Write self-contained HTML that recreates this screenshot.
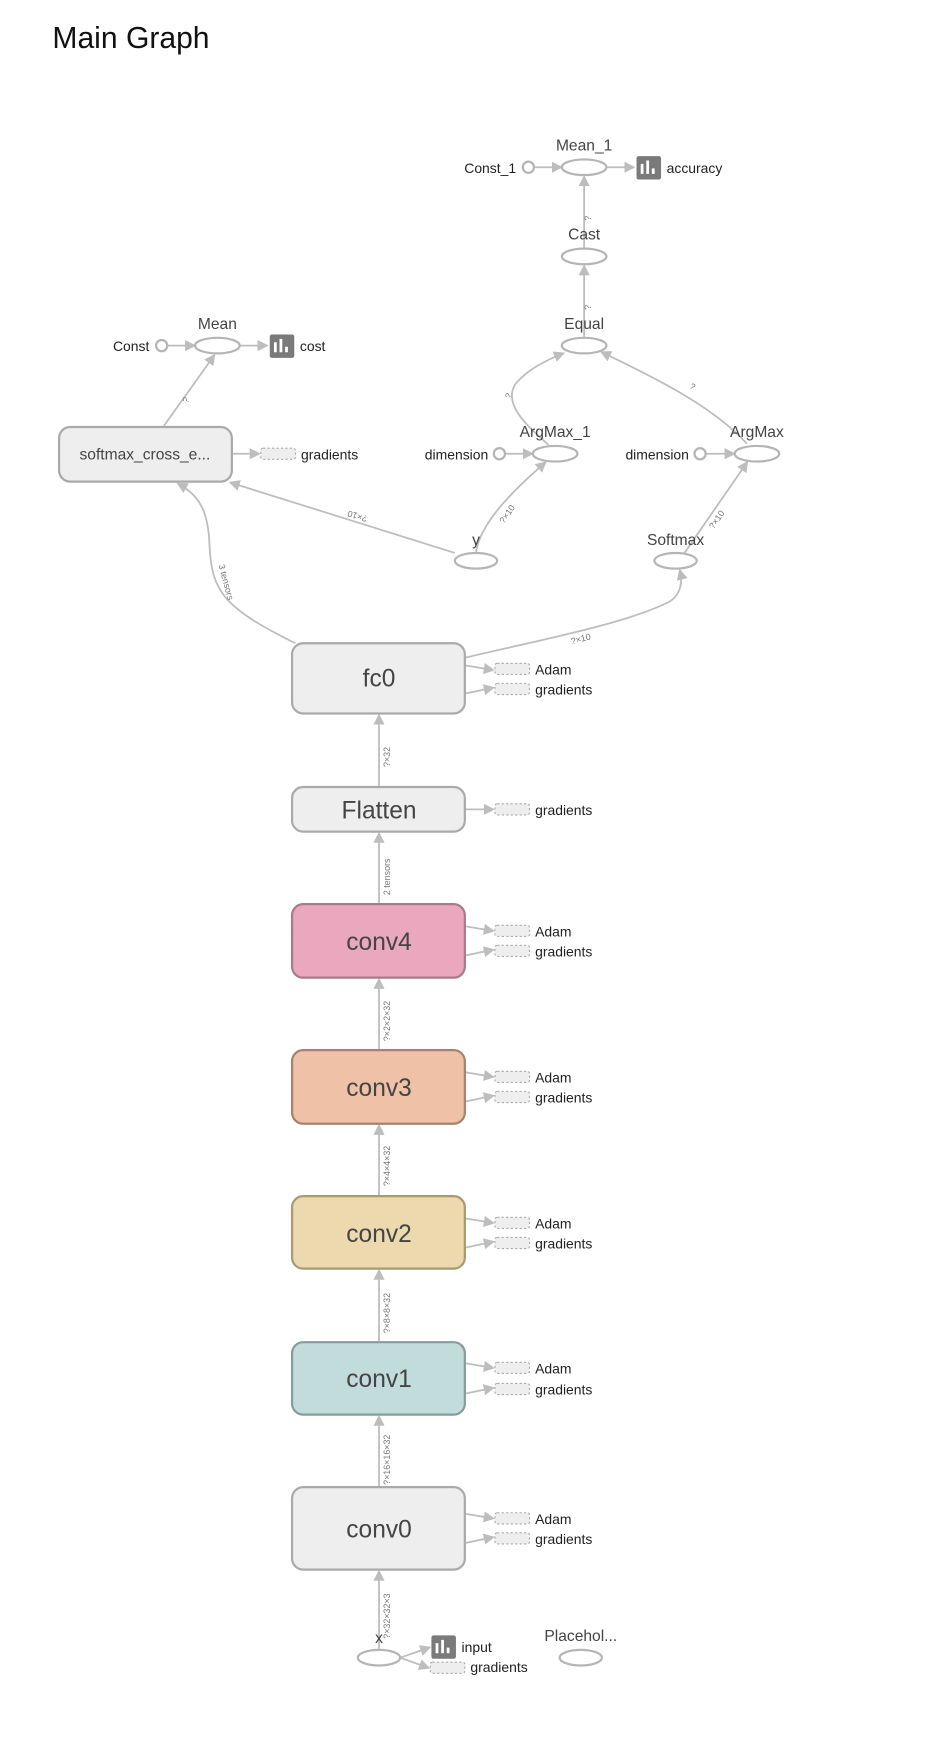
<!DOCTYPE html>
<html><head><meta charset="utf-8"><style>
html,body{margin:0;padding:0;background:#fff;width:952px;height:1748px;overflow:hidden}
svg{display:block}
text{font-family:"Liberation Sans",sans-serif}
.e{fill:none;stroke:#bdbdbd;stroke-width:1.6}
.el{fill:#fff;stroke:#b5b5b5;stroke-width:2}
.lbl{font-size:14px;fill:#444;text-anchor:middle}
.sm{font-size:12.5px;fill:#222}
.el2{font-size:8px;fill:#777}
.big{font-size:22px;fill:#444;text-anchor:middle}
.db{fill:#eee;stroke:#aaa;stroke-width:1;stroke-dasharray:2,2}
</style></head><body>
<svg width="952" height="1748" viewBox="0 0 854 1568">
<defs><marker id="a" markerWidth="10" markerHeight="10" refX="8" refY="5" orient="auto" markerUnits="userSpaceOnUse"><path d="M0,0 L10,5 L0,10 z" fill="#bdbdbd"/></marker></defs>
<text x="47" y="43" font-size="27" fill="#111">Main Graph</text>

<g class="e" marker-end="url(#a)">
<line x1="479" y1="150" x2="503" y2="150"/>
<line x1="544" y1="150" x2="568" y2="150"/>
<line x1="524" y1="222" x2="524" y2="159"/>
<line x1="524" y1="302" x2="524" y2="239"/>
<line x1="150" y1="310" x2="174" y2="310"/>
<line x1="215" y1="310" x2="239" y2="310"/>
<line x1="147" y1="382" x2="192" y2="319"/>
<line x1="209" y1="407" x2="232" y2="407"/>
<line x1="453" y1="407" x2="477" y2="407"/>
<line x1="633" y1="407" x2="658" y2="407"/>
<path d="M492,399 C470,380 452,362 462,345 C472,332 490,323 505,317"/>
<path d="M670,398 C640,365 590,340 540,316"/>
<path d="M408,496 L207,433"/>
<path d="M427,496 C430,470 460,440 489,415"/>
<path d="M614,496 L670,415"/>
<path d="M265,577 C200,545 190,530 188,490 C187,460 180,445 160,434"/>
<path d="M417,590 C480,575 560,560 600,540 C612,533 612,520 610,512"/>
<line x1="340" y1="705" x2="340" y2="642"/>
<line x1="340" y1="810" x2="340" y2="748"/>
<line x1="340" y1="941" x2="340" y2="879"/>
<line x1="340" y1="1072" x2="340" y2="1010"/>
<line x1="340" y1="1203" x2="340" y2="1140"/>
<line x1="340" y1="1333" x2="340" y2="1271"/>
<line x1="340" y1="1479" x2="340" y2="1410"/>
<line x1="359" y1="1487" x2="385" y2="1478"/>
<line x1="359" y1="1487" x2="384" y2="1496"/>
</g>
<g class="e" marker-end="url(#a)">
<line x1="418" y1="597" x2="442" y2="601"/><line x1="418" y1="622" x2="442" y2="617"/>
<line x1="418" y1="726" x2="442" y2="726"/>
<line x1="418" y1="831" x2="442" y2="835"/><line x1="418" y1="857" x2="442" y2="852"/>
<line x1="418" y1="962" x2="442" y2="966"/><line x1="418" y1="988" x2="442" y2="983"/>
<line x1="418" y1="1093" x2="442" y2="1097"/><line x1="418" y1="1119" x2="442" y2="1114"/>
<line x1="418" y1="1223" x2="442" y2="1227"/><line x1="418" y1="1250" x2="442" y2="1245"/>
<line x1="418" y1="1358" x2="442" y2="1362"/><line x1="418" y1="1384" x2="442" y2="1379"/>
</g>

<g class="el2">
<text transform="translate(350,688) rotate(-90)">?×32</text>
<text transform="translate(350,803) rotate(-90)">2 tensors</text>
<text transform="translate(350,934) rotate(-90)">?×2×2×32</text>
<text transform="translate(350,1064) rotate(-90)">?×4×4×32</text>
<text transform="translate(350,1196) rotate(-90)">?×8×8×32</text>
<text transform="translate(350,1332) rotate(-90)">?×16×16×32</text>
<text transform="translate(350,1470) rotate(-90)">?×32×32×3</text>
<text transform="translate(513,578) rotate(-15)">?×10</text>
<text transform="translate(640,475) rotate(-55)">?×10</text>
<text transform="translate(452,470) rotate(-55)">?×10</text>
<text transform="translate(330,463) rotate(197)">?×10</text>
<text transform="translate(196,507) rotate(75)">3 tensors</text>
<text transform="translate(168,362) rotate(-60)">?</text>
<text transform="translate(458,358) rotate(-70)">?</text>
<text transform="translate(618,348) rotate(30)">?</text>
<text transform="translate(530,198) rotate(-90)">?</text>
<text transform="translate(530,278) rotate(-90)">?</text>
</g>

<text class="lbl" x="524" y="135">Mean_1</text>
<ellipse class="el" cx="524" cy="150" rx="20" ry="7"/>
<circle class="el" cx="474" cy="150" r="5"/>
<text class="sm" x="463" y="155" text-anchor="end">Const_1</text>
<rect x="571" y="140" width="22" height="21" rx="2" fill="#7a7a7a"/>
<path d="M576,156v-9M581,156v-12M586,156v-5" stroke="#fff" stroke-width="2.5"/>
<text class="sm" x="598" y="155">accuracy</text>
<text class="lbl" x="524" y="215">Cast</text>
<ellipse class="el" cx="524" cy="230" rx="20" ry="7"/>
<text class="lbl" x="524" y="295">Equal</text>
<ellipse class="el" cx="524" cy="310" rx="20" ry="7"/>

<text class="lbl" x="195" y="295">Mean</text>
<ellipse class="el" cx="195" cy="310" rx="20" ry="7"/>
<circle class="el" cx="145" cy="310" r="5"/>
<text class="sm" x="134" y="315" text-anchor="end">Const</text>
<rect x="242" y="300" width="22" height="21" rx="2" fill="#7a7a7a"/>
<path d="M247,316v-9M252,316v-12M257,316v-5" stroke="#fff" stroke-width="2.5"/>
<text class="sm" x="269" y="315">cost</text>

<rect x="53" y="383" width="155" height="49" rx="10" fill="#eee" stroke="#aaa" stroke-width="2"/>
<text x="130" y="412" font-size="14" fill="#444" text-anchor="middle">softmax_cross_e...</text>
<rect class="db" x="234" y="402" width="31" height="10" rx="2"/>
<text class="sm" x="270" y="412">gradients</text>

<text class="lbl" x="498" y="392">ArgMax_1</text>
<ellipse class="el" cx="498" cy="407" rx="20" ry="7"/>
<circle class="el" cx="448" cy="407" r="5"/>
<text class="sm" x="438" y="412" text-anchor="end">dimension</text>
<text class="lbl" x="679" y="392">ArgMax</text>
<ellipse class="el" cx="679" cy="407" rx="20" ry="7"/>
<circle class="el" cx="628" cy="407" r="5"/>
<text class="sm" x="618" y="412" text-anchor="end">dimension</text>

<text class="lbl" x="427" y="489">y</text>
<ellipse class="el" cx="427" cy="503" rx="19" ry="7"/>
<text class="lbl" x="606" y="489">Softmax</text>
<ellipse class="el" cx="606" cy="503" rx="19" ry="7"/>

<rect x="262" y="577" width="155" height="63" rx="10" fill="#eee" stroke="#aaa" stroke-width="2"/>
<text class="big" x="340" y="616">fc0</text>
<rect x="262" y="706" width="155" height="40" rx="10" fill="#eee" stroke="#aaa" stroke-width="2"/>
<text class="big" x="340" y="734">Flatten</text>
<rect x="262" y="811" width="155" height="66" rx="10" fill="#eaa8bf" stroke="#a87a8c" stroke-width="2"/>
<text class="big" x="340" y="852">conv4</text>
<rect x="262" y="942" width="155" height="66" rx="10" fill="#efc2a8" stroke="#a8826e" stroke-width="2"/>
<text class="big" x="340" y="983">conv3</text>
<rect x="262" y="1073" width="155" height="65" rx="10" fill="#ecd9ad" stroke="#a89a72" stroke-width="2"/>
<text class="big" x="340" y="1114">conv2</text>
<rect x="262" y="1204" width="155" height="65" rx="10" fill="#c2dcdc" stroke="#879b9b" stroke-width="2"/>
<text class="big" x="340" y="1244">conv1</text>
<rect x="262" y="1334" width="155" height="74" rx="10" fill="#eee" stroke="#aaa" stroke-width="2"/>
<text class="big" x="340" y="1379">conv0</text>

<g>
<rect class="db" x="444" y="595" width="31" height="10" rx="2"/><text class="sm" x="480" y="605">Adam</text>
<rect class="db" x="444" y="613" width="31" height="10" rx="2"/><text class="sm" x="480" y="623">gradients</text>
<rect class="db" x="444" y="721" width="31" height="10" rx="2"/><text class="sm" x="480" y="731">gradients</text>
<rect class="db" x="444" y="830" width="31" height="10" rx="2"/><text class="sm" x="480" y="840">Adam</text>
<rect class="db" x="444" y="848" width="31" height="10" rx="2"/><text class="sm" x="480" y="858">gradients</text>
<rect class="db" x="444" y="961" width="31" height="10" rx="2"/><text class="sm" x="480" y="971">Adam</text>
<rect class="db" x="444" y="979" width="31" height="10" rx="2"/><text class="sm" x="480" y="989">gradients</text>
<rect class="db" x="444" y="1092" width="31" height="10" rx="2"/><text class="sm" x="480" y="1102">Adam</text>
<rect class="db" x="444" y="1110" width="31" height="10" rx="2"/><text class="sm" x="480" y="1120">gradients</text>
<rect class="db" x="444" y="1222" width="31" height="10" rx="2"/><text class="sm" x="480" y="1232">Adam</text>
<rect class="db" x="444" y="1241" width="31" height="10" rx="2"/><text class="sm" x="480" y="1251">gradients</text>
<rect class="db" x="444" y="1357" width="31" height="10" rx="2"/><text class="sm" x="480" y="1367">Adam</text>
<rect class="db" x="444" y="1375" width="31" height="10" rx="2"/><text class="sm" x="480" y="1385">gradients</text>
</g>

<text class="lbl" x="340" y="1474">x</text>
<ellipse class="el" cx="340" cy="1487" rx="19" ry="7"/>
<rect x="387" y="1467" width="22" height="21" rx="2" fill="#7a7a7a"/>
<path d="M392,1483v-9M397,1483v-12M402,1483v-5" stroke="#fff" stroke-width="2.5"/>
<text class="sm" x="414" y="1482">input</text>
<rect class="db" x="386" y="1491" width="31" height="10" rx="2"/>
<text class="sm" x="422" y="1500">gradients</text>
<text class="lbl" x="521" y="1472">Placehol...</text>
<ellipse class="el" cx="521" cy="1487" rx="19" ry="7"/>
</svg>
</body></html>
